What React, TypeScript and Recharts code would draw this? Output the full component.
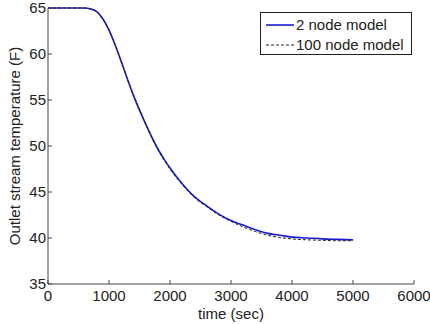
import React from 'react';
import { LineChart, Line, XAxis, YAxis, Legend } from 'recharts';

const times = [0, 200, 400, 600, 700, 800, 900, 1000, 1100, 1200, 1300, 1400, 1500, 1600, 1700, 1800, 1900, 2000, 2200, 2400, 2600, 2800, 3000, 3200, 3400, 3600, 3800, 4000, 4250, 4500, 4750, 5000];
const twoNode = [65, 65, 65, 65, 64.9, 64.6, 63.8, 62.6, 61.0, 59.2, 57.3, 55.5, 53.9, 52.4, 51.0, 49.7, 48.6, 47.6, 45.9, 44.5, 43.5, 42.6, 41.9, 41.4, 40.9, 40.5, 40.3, 40.1, 40.0, 39.9, 39.85, 39.8];
const hundredNode = [65, 65, 65, 65, 64.9, 64.6, 63.8, 62.6, 61.0, 59.2, 57.3, 55.6, 54.0, 52.4, 50.9, 49.6, 48.5, 47.5, 45.8, 44.4, 43.4, 42.5, 41.8, 41.2, 40.7, 40.3, 40.05, 39.9, 39.8, 39.75, 39.7, 39.7];
const xTicks = [0, 1000, 2000, 3000, 4000, 5000, 6000];
const yTicks = [35, 40, 45, 50, 55, 60, 65];
const seriesNames = ['2 node model', '100 node model'];

const data = times.map((t, i) => ({ t, a: twoNode[i], b: hundredNode[i] }));

const FONT = 'Liberation Sans, Arial, sans-serif';
const AXIS = '#444';
const TXT = '#222';
const BLUE = '#1a1ad0';

const LegendBox = () => (
  <div
    style={{
      width: 152,
      height: 43,
      boxSizing: 'border-box',
      border: '1px solid #222',
      background: '#fff',
      fontFamily: FONT,
      fontSize: 15,
      color: TXT,
      padding: '2px 0 0 4px',
      lineHeight: '20px',
    }}
  >
    <div style={{ display: 'flex', alignItems: 'center' }}>
      <svg width={30} height={20}>
        <line x1={1} y1={10} x2={29} y2={10} stroke={BLUE} strokeWidth={1.6} />
      </svg>
      <span style={{ marginLeft: 1 }}>{seriesNames[0]}</span>
    </div>
    <div style={{ display: 'flex', alignItems: 'center' }}>
      <svg width={30} height={20}>
        <line x1={1} y1={10} x2={29} y2={10} stroke="#222" strokeWidth={1} strokeDasharray="3 2" />
      </svg>
      <span style={{ marginLeft: 1 }}>{seriesNames[1]}</span>
    </div>
  </div>
);

export default function App() {
  const tickStyle = { fontFamily: FONT, fontSize: 15, fill: TXT };
  return (
    <div style={{ position: 'absolute', left: 0, top: 0, background: '#fff' }}>
      <LineChart width={430} height={324} data={data} margin={{ top: 8, right: 16, left: 0, bottom: 0 }}>
        <XAxis
          dataKey="t"
          type="number"
          domain={[0, 6000]}
          ticks={xTicks}
          height={40}
          stroke={AXIS}
          tick={tickStyle}
          tickSize={-4}
          tickMargin={10}
          interval={0}
          label={{
            content: (props: any) => {
              const vb = props.viewBox;
              return (
                <text x={vb.x + vb.width / 2} y={vb.y + 35} textAnchor="middle" fontFamily={FONT} fontSize={15} fill={TXT}>
                  time (sec)
                </text>
              );
            },
          }}
        />
        <XAxis xAxisId="top" orientation="top" type="number" domain={[0, 6000]} ticks={xTicks} height={0} stroke={AXIS} tick={false} tickSize={-4} />
        <YAxis
          type="number"
          domain={[35, 65]}
          ticks={yTicks}
          width={48}
          stroke={AXIS}
          tick={tickStyle}
          tickSize={-4}
          tickMargin={6}
          interval={0}
          label={{
            content: (props: any) => {
              const vb = props.viewBox;
              const cx = 20;
              const cy = vb.y + vb.height / 2;
              return (
                <text x={cx} y={cy} transform={`rotate(-90 ${cx} ${cy})`} textAnchor="middle" fontFamily={FONT} fontSize={15} fill={TXT}>
                  Outlet stream temperature (F)
                </text>
              );
            },
          }}
        />
        <YAxis yAxisId="right" orientation="right" type="number" domain={[35, 65]} ticks={yTicks} width={0} stroke={AXIS} tick={false} tickSize={-4} />
        <Legend
          layout="vertical"
          align="center"
          verticalAlign="middle"
          content={() => <LegendBox />}
          wrapperStyle={{ left: 260, top: 12, width: 152, height: 43 }}
        />
        <Line dataKey="a" type="monotone" stroke={BLUE} strokeWidth={1.6} dot={false} isAnimationActive={false} />
        <Line dataKey="b" type="monotone" stroke="#222" strokeWidth={1} strokeDasharray="3 2" dot={false} isAnimationActive={false} />
      </LineChart>
    </div>
  );
}
